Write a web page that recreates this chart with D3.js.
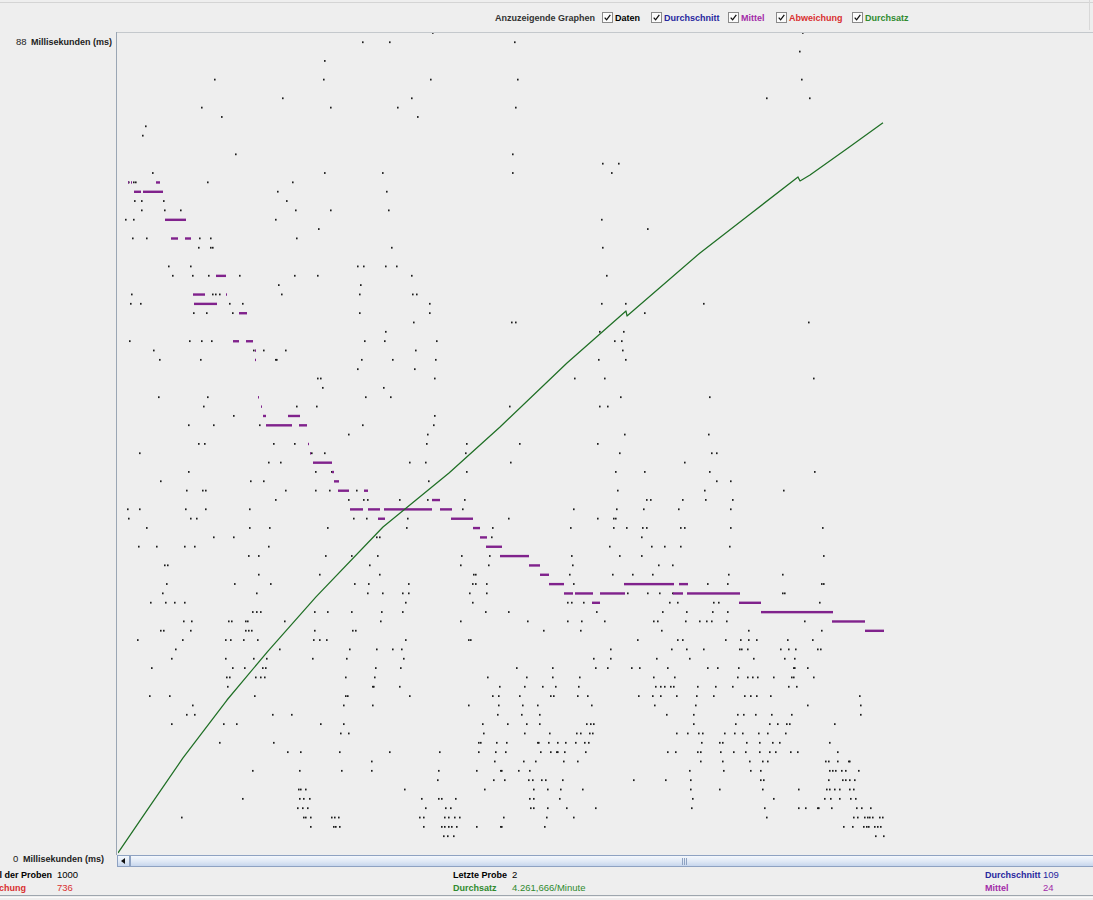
<!DOCTYPE html>
<html><head><meta charset="utf-8">
<script src="https://cdn.jsdelivr.net/npm/d3@7"></script>
<style>
html,body{margin:0;padding:0;background:#eeeeee;overflow:hidden;}
svg{display:block;}
text{font-family:"Liberation Sans",Arial,sans-serif;font-size:9.5px;}
text.b{font-weight:bold;font-size:9px;}
</style></head><body>
<svg id="chart" width="1093" height="900"></svg>
<script>
// ---------------- data ----------------
const yMaxMs = 88;
const yTickValues = [88, 0];
const yUnitLabel = "Millisekunden (ms)";
const visibleSamples = 975;

const legendTitle = "Anzuzeigende Graphen";
const legendNames = ["Daten", "Durchschnitt", "Mittel", "Abweichung", "Durchsatz"];
const legendColors = ["#000000", "#27279e", "#a22ba8", "#d93030", "#2f8a2f"];

// elapsed time per sample: [ms, [sample indices]]
const elapsedRows = [
  [88, [314, 684]],
  [87, [244, 271, 396]],
  [86, [681]],
  [85, [206]],
  [83, [96, 205, 312, 399, 683]],
  [81, [164, 293, 648, 691]],
  [80, [83, 212, 279, 397]],
  [79, [103, 299]],
  [78, [27]],
  [77, [24]],
  [75, [117, 394]],
  [74, [484, 500]],
  [73, [34, 206, 264, 394, 493]],
  [72, [10, 15, 17, 89, 174]],
  [71, [159, 268]],
  [70, [16, 23, 45, 168]],
  [69, [23, 46, 62, 177, 212, 270]],
  [68, [7, 15, 157, 483]],
  [67, [200, 529]],
  [66, [14, 28, 81, 92, 178]],
  [65, [80, 92, 94, 273, 484]],
  [63, [50, 72, 239, 245, 267, 278]],
  [62, [54, 74, 90, 121, 176, 199, 293, 488]],
  [61, [160, 242]],
  [60, [13, 94, 97, 101, 163, 241, 294, 298]],
  [59, [12, 22, 111, 124, 311, 483, 507, 585]],
  [58, [75, 88, 114, 241, 311, 526]],
  [57, [295, 393, 397, 690]],
  [56, [267, 481, 505]],
  [55, [11, 71, 83, 93, 246, 266, 318, 496, 503]],
  [54, [35, 135, 145, 167, 297, 504]],
  [53, [41, 82, 157, 158, 243, 274, 317, 480, 507]],
  [52, [239, 296]],
  [51, [199, 202, 316, 456, 486, 695]],
  [50, [204, 265]],
  [49, [40, 89, 247, 272, 502, 591]],
  [48, [85, 178, 198, 391, 481, 489]],
  [47, [115, 316]],
  [46, [70, 95, 141, 244, 315]],
  [45, [230, 309, 506, 590]],
  [44, [80, 86, 155, 176, 308, 348, 401, 479]],
  [43, [21, 193, 206, 347, 501, 593, 598]],
  [42, [150, 162, 291, 307, 392, 566]],
  [41, [70, 197, 213, 348, 497, 526, 591, 696]],
  [40, [42, 132, 145, 310, 598, 612]],
  [39, [68, 84, 87, 167, 197, 211, 238, 499, 586, 665]],
  [38, [157, 230, 245, 249, 281, 309, 346, 528, 532, 564, 587, 614]],
  [37, [9, 21, 67, 87, 131, 344, 455, 498, 525, 560, 612]],
  [36, [10, 72, 78, 235, 248, 289, 390, 479, 495, 497]],
  [35, [28, 131, 151, 209, 288, 374, 452, 495, 508, 524, 528, 562, 566, 612, 704]],
  [34, [95, 115, 258, 261, 373, 523]],
  [33, [20, 38, 66, 76, 150, 491, 533, 546, 562, 611]],
  [32, [130, 140, 207, 233, 259, 343, 371, 382, 453, 501, 523, 705]],
  [31, [46, 49, 251, 342, 370, 454, 540, 554]],
  [30, [140, 201, 261, 355, 357, 451, 494, 514, 534, 610, 664]],
  [29, [48, 116, 152, 236, 250, 290, 354, 357, 368, 455, 589, 609, 703, 705]],
  [28, [44, 138, 249, 264, 284, 290, 351, 368, 509, 529, 541, 554, 664, 666]],
  [27, [32, 47, 56, 66, 287, 354, 449, 453, 465, 551, 559, 595, 600, 701]],
  [26, [134, 138, 142, 196, 209, 233, 263, 284, 367, 390, 478, 544, 568, 594, 609]],
  [25, [65, 73, 110, 113, 127, 129, 166, 262, 342, 409, 449, 463, 486, 535, 539, 567, 581, 588, 593, 608, 686]],
  [24, [42, 45, 72, 127, 130, 133, 196, 234, 237, 425, 462, 543, 630, 703]],
  [23, [19, 64, 107, 112, 125, 139, 195, 201, 208, 287, 350, 352, 519, 559, 564, 607, 622, 630, 638, 669, 694]],
  [22, [57, 161, 231, 258, 274, 283, 492, 553, 568, 585, 621, 623, 629, 662, 670, 677, 699, 702]],
  [21, [53, 107, 135, 148, 194, 228, 285, 475, 492, 538, 571, 635, 666, 676]],
  [20, [33, 114, 126, 144, 147, 257, 282, 398, 434, 477, 489, 513, 521, 549, 589, 599, 620, 675, 676, 689]],
  [19, [108, 111, 137, 142, 146, 227, 256, 369, 408, 434, 461, 535, 556, 619, 629, 634, 639, 655, 673, 675, 695]],
  [18, [109, 254, 255, 281, 381, 406, 424, 437, 460, 537, 542, 546, 552, 555, 579, 597, 614, 670, 678]],
  [17, [31, 51, 136, 227, 229, 291, 374, 380, 401, 432, 435, 459, 469, 520, 534, 542, 558, 578, 595, 626, 632, 638, 652, 741]],
  [16, [74, 225, 254, 350, 380, 404, 419, 473, 536, 577, 689, 742]],
  [15, [68, 76, 154, 173, 379, 403, 421, 548, 575, 619, 625, 637, 653, 673, 742]],
  [14, [53, 105, 118, 202, 225, 364, 389, 408, 421, 468, 472, 475, 575, 617, 651, 659, 668, 671, 716]],
  [13, [222, 230, 365, 406, 431, 458, 462, 471, 474, 558, 569, 580, 584, 606, 616, 624, 640, 649, 667]],
  [12, [101, 155, 360, 362, 378, 388, 419, 420, 430, 439, 447, 457, 466, 470, 583, 601, 604, 628, 641, 654, 661, 711]],
  [11, [169, 182, 221, 271, 321, 360, 377, 387, 422, 432, 438, 439, 446, 467, 549, 557, 579, 582, 602, 615, 627, 641, 651, 657, 672, 679, 719]],
  [10, [253, 376, 405, 417, 445, 459, 582, 604, 631, 644, 649, 707, 710, 719, 730, 731]],
  [9, [134, 181, 223, 253, 320, 358, 382, 383, 400, 411, 571, 605, 632, 642, 711, 714, 717, 723, 727, 740]],
  [8, [319, 375, 386, 410, 414, 423, 427, 444, 515, 547, 572, 642, 645, 710, 724, 727, 731, 736]],
  [7, [180, 182, 187, 286, 366, 415, 429, 442, 464, 572, 601, 644, 680, 708, 711, 716, 721, 731, 735]],
  [6, [124, 181, 185, 191, 303, 320, 323, 337, 411, 415, 441, 574, 655, 706, 712, 721, 732, 737]],
  [5, [179, 184, 189, 307, 327, 332, 412, 415, 429, 448, 477, 573, 646, 680, 687, 699, 700, 713, 738, 743, 752]],
  [4, [63, 185, 187, 192, 213, 216, 220, 301, 305, 326, 330, 336, 341, 385, 428, 455, 648, 735, 739, 746, 749, 751, 754, 761, 764]],
  [3, [192, 215, 217, 221, 305, 323, 326, 330, 333, 338, 358, 382, 383, 426, 725, 734, 745, 748, 750, 756, 759, 762]],
  [2, [325, 329, 335, 757, 765]]
];

// running median: [first sample, last sample, ms]
const medianRuns = [
  [10, 10, 72], [13, 13, 72], [38, 41, 72],
  [16, 22, 71], [25, 44, 71],
  [47, 67, 68], [53, 59, 66], [67, 72, 66],
  [98, 107, 62], [75, 86, 60], [108, 108, 60], [76, 98, 59],
  [121, 128, 58], [115, 120, 55], [128, 134, 55], [137, 137, 54], [137, 137, 53],
  [140, 140, 49], [143, 143, 48], [145, 147, 47], [170, 181, 47],
  [148, 173, 46], [181, 188, 46], [190, 190, 44], [192, 192, 43],
  [195, 213, 42], [214, 215, 41], [216, 220, 40], [220, 230, 39], [246, 249, 39],
  [314, 321, 38], [232, 244, 37], [250, 261, 37], [266, 313, 37], [322, 333, 37],
  [260, 266, 36], [333, 354, 36], [355, 361, 35], [362, 368, 34], [368, 383, 33],
  [382, 410, 32], [411, 421, 31], [422, 430, 30], [431, 445, 29],
  [446, 454, 28], [457, 474, 28], [474, 481, 27], [482, 506, 28], [506, 555, 29],
  [555, 564, 28], [561, 569, 29], [569, 621, 28], [621, 642, 27],
  [643, 714, 26], [714, 746, 25], [747, 765, 24]
];

// throughput (samples / minute)
const throughputIndex = [0, 30, 65, 109, 150, 198, 265, 298, 331, 382, 449, 508, 509, 582, 631, 680, 682, 692, 730, 765];
const throughputPerMinute = [12, 268, 565, 902, 1187, 1502, 1909, 2066, 2223, 2491, 2863, 3166, 3137, 3504, 3725, 3946, 3923, 3958, 4115, 4261.666];
const throughputScaleMax = 4784;

// summary panel
const summaryLeftLabels = ["Anzahl der Proben", "Abweichung"];
const summaryLeftValues = ["1000", "736"];
const summaryLeftColors = ["#000000", "#d93030"];
const summaryMidLabels = ["Letzte Probe", "Durchsatz"];
const summaryMidValues = ["2", "4.261,666/Minute"];
const summaryMidColors = ["#000000", "#2f8a2f"];
const summaryRightLabels = ["Durchschnitt", "Mittel"];
const summaryRightValues = ["109", "24"];
const summaryRightColors = ["#27279e", "#a22ba8"];

// ---------------- drawing ----------------
const svg = d3.select("#chart");
const W = 1093, H = 900;
const plot = {left: 118, right: 1093, top: 33, bottom: 855};

const x = d3.scaleLinear().domain([0, visibleSamples]).range([plot.left, plot.right]);
const y = d3.scaleLinear().domain([0, yMaxMs]).range([plot.bottom, plot.top]);
const yTp = d3.scaleLinear().domain([0, throughputScaleMax]).range([plot.bottom, plot.top]);

svg.append("rect").attr("width", W).attr("height", H).attr("fill", "#eeeeee");
svg.append("line").attr("x1", 0).attr("x2", W).attr("y1", 2.5).attr("y2", 2.5).attr("stroke", "#d4d4d4");
svg.append("line").attr("x1", 1089.5).attr("x2", 1089.5).attr("y1", 0).attr("y2", 30).attr("stroke", "#d8d8d8");

// legend
const legend = svg.append("g");
legend.append("text").attr("class", "b").attr("x", 495).attr("y", 21).attr("fill", "#333").text(legendTitle);
const boxX = [602, 651, 728, 776, 852];
legendNames.forEach((n, i) => {
  const g = legend.append("g").attr("transform", `translate(${boxX[i]},12)`);
  g.append("rect").attr("x", 0.5).attr("y", 0.5).attr("width", 10).attr("height", 10)
    .attr("fill", "#fbfbfb").attr("stroke", "#8a8a8a");
  g.append("path").attr("d", "M2.7,5.6 L4.6,7.8 L8.3,2.8").attr("fill", "none").attr("stroke", "#111").attr("stroke-width", 1.3);
  g.append("text").attr("class", "b").attr("x", 13).attr("y", 9).attr("fill", legendColors[i]).text(n);
});

// plot frame
svg.append("line").attr("x1", plot.left - 1.5).attr("x2", W).attr("y1", plot.top - 0.5).attr("y2", plot.top - 0.5).attr("stroke", "#c4c8cc");
svg.append("line").attr("x1", plot.left - 1.5).attr("x2", plot.left - 1.5).attr("y1", plot.top - 1).attr("y2", plot.bottom).attr("stroke", "#9aa6b4");

// y labels
const yLabelX = [[16, 31], [13, 23]];
yTickValues.forEach((v, i) => {
  const yy = y(v) + (i === 0 ? 12 : 7);
  svg.append("text").attr("x", yLabelX[i][0]).attr("y", yy).attr("fill", "#222").text(v);
  svg.append("text").attr("class", "b").attr("x", yLabelX[i][1]).attr("y", yy).attr("fill", "#222").text(yUnitLabel);
});

svg.append("clipPath").attr("id", "pc").append("rect")
  .attr("x", plot.left).attr("y", plot.top).attr("width", plot.right - plot.left).attr("height", plot.bottom - plot.top);
const pg = svg.append("g").attr("clip-path", "url(#pc)");

// data points
const pts = [];
elapsedRows.forEach(([ms, idx]) => idx.forEach(i => pts.push({i, ms})));
pg.append("g").selectAll("rect").data(pts.filter(d => d.ms <= yMaxMs)).join("rect")
  .attr("x", d => x(d.i)).attr("y", d => y(d.ms) - 1)
  .attr("width", 1.6).attr("height", 1.8).attr("fill", "#1c1c1c");

// median
pg.append("g").selectAll("rect").data(medianRuns).join("rect")
  .attr("x", d => x(d[0])).attr("width", d => x(d[1] + 1) - x(d[0]))
  .attr("y", d => y(d[2]) - 1.2).attr("height", 2.4).attr("fill", "#80228c");

// throughput
const tpData = throughputIndex.map((v, k) => [v, throughputPerMinute[k]]);
pg.append("path").datum(tpData)
  .attr("d", d3.line().x(d => x(d[0])).y(d => yTp(d[1])))
  .attr("fill", "none").attr("stroke", "#1f6f25").attr("stroke-width", 1.25)
  .attr("stroke-linejoin", "round");

// scrollbar
const sb = svg.append("g");
const defs = svg.append("defs");
const gr = defs.append("linearGradient").attr("id", "thumb").attr("x1", 0).attr("x2", 0).attr("y1", 0).attr("y2", 1);
gr.append("stop").attr("offset", "0%").attr("stop-color", "#f6f9fd");
gr.append("stop").attr("offset", "55%").attr("stop-color", "#dfe8f5");
gr.append("stop").attr("offset", "100%").attr("stop-color", "#c4d4ec");
sb.append("rect").attr("x", 117.5).attr("y", 855.5).attr("width", 12).attr("height", 11).attr("fill", "url(#thumb)").attr("stroke", "#8ea2c2");
sb.append("path").attr("d", "M121,861 L125,858 L125,864 Z").attr("fill", "#111");
sb.append("rect").attr("x", 130.5).attr("y", 855.5).attr("width", 964).attr("height", 11).attr("fill", "url(#thumb)").attr("stroke", "#8ea2c2");
[682, 684, 686].forEach(gx => sb.append("line").attr("x1", gx + 0.5).attr("x2", gx + 0.5).attr("y1", 858).attr("y2", 865).attr("stroke", "#8ea2c2"));

// summary
function summaryColumn(labels, values, colors, labelX, valueX) {
  labels.forEach((l, k) => {
    const yy = 878 + k * 12.5;
    svg.append("text").attr("class", "b").attr("x", labelX).attr("y", yy).attr("fill", colors[k]).text(l);
    svg.append("text").attr("x", valueX).attr("y", yy).attr("fill", colors[k]).text(values[k]);
  });
}
// left column: labels start off-screen (the window is cropped on the left, as in the reference)
const probe = svg.append("text").attr("class", "b").text(summaryLeftLabels[0]);
const wLeft = probe.node().getComputedTextLength();
probe.remove();
summaryColumn(summaryLeftLabels, summaryLeftValues, summaryLeftColors, 52 - wLeft, 57);
summaryColumn(summaryMidLabels, summaryMidValues, summaryMidColors, 453, 512);
summaryColumn(summaryRightLabels, summaryRightValues, summaryRightColors, 985, 1043);

svg.append("line").attr("x1", 0).attr("x2", W).attr("y1", 895.5).attr("y2", 895.5).attr("stroke", "#9ea6ae");
svg.append("line").attr("x1", 0).attr("x2", W).attr("y1", 897.5).attr("y2", 897.5).attr("stroke", "#fafafa");
</script>
</body></html>
